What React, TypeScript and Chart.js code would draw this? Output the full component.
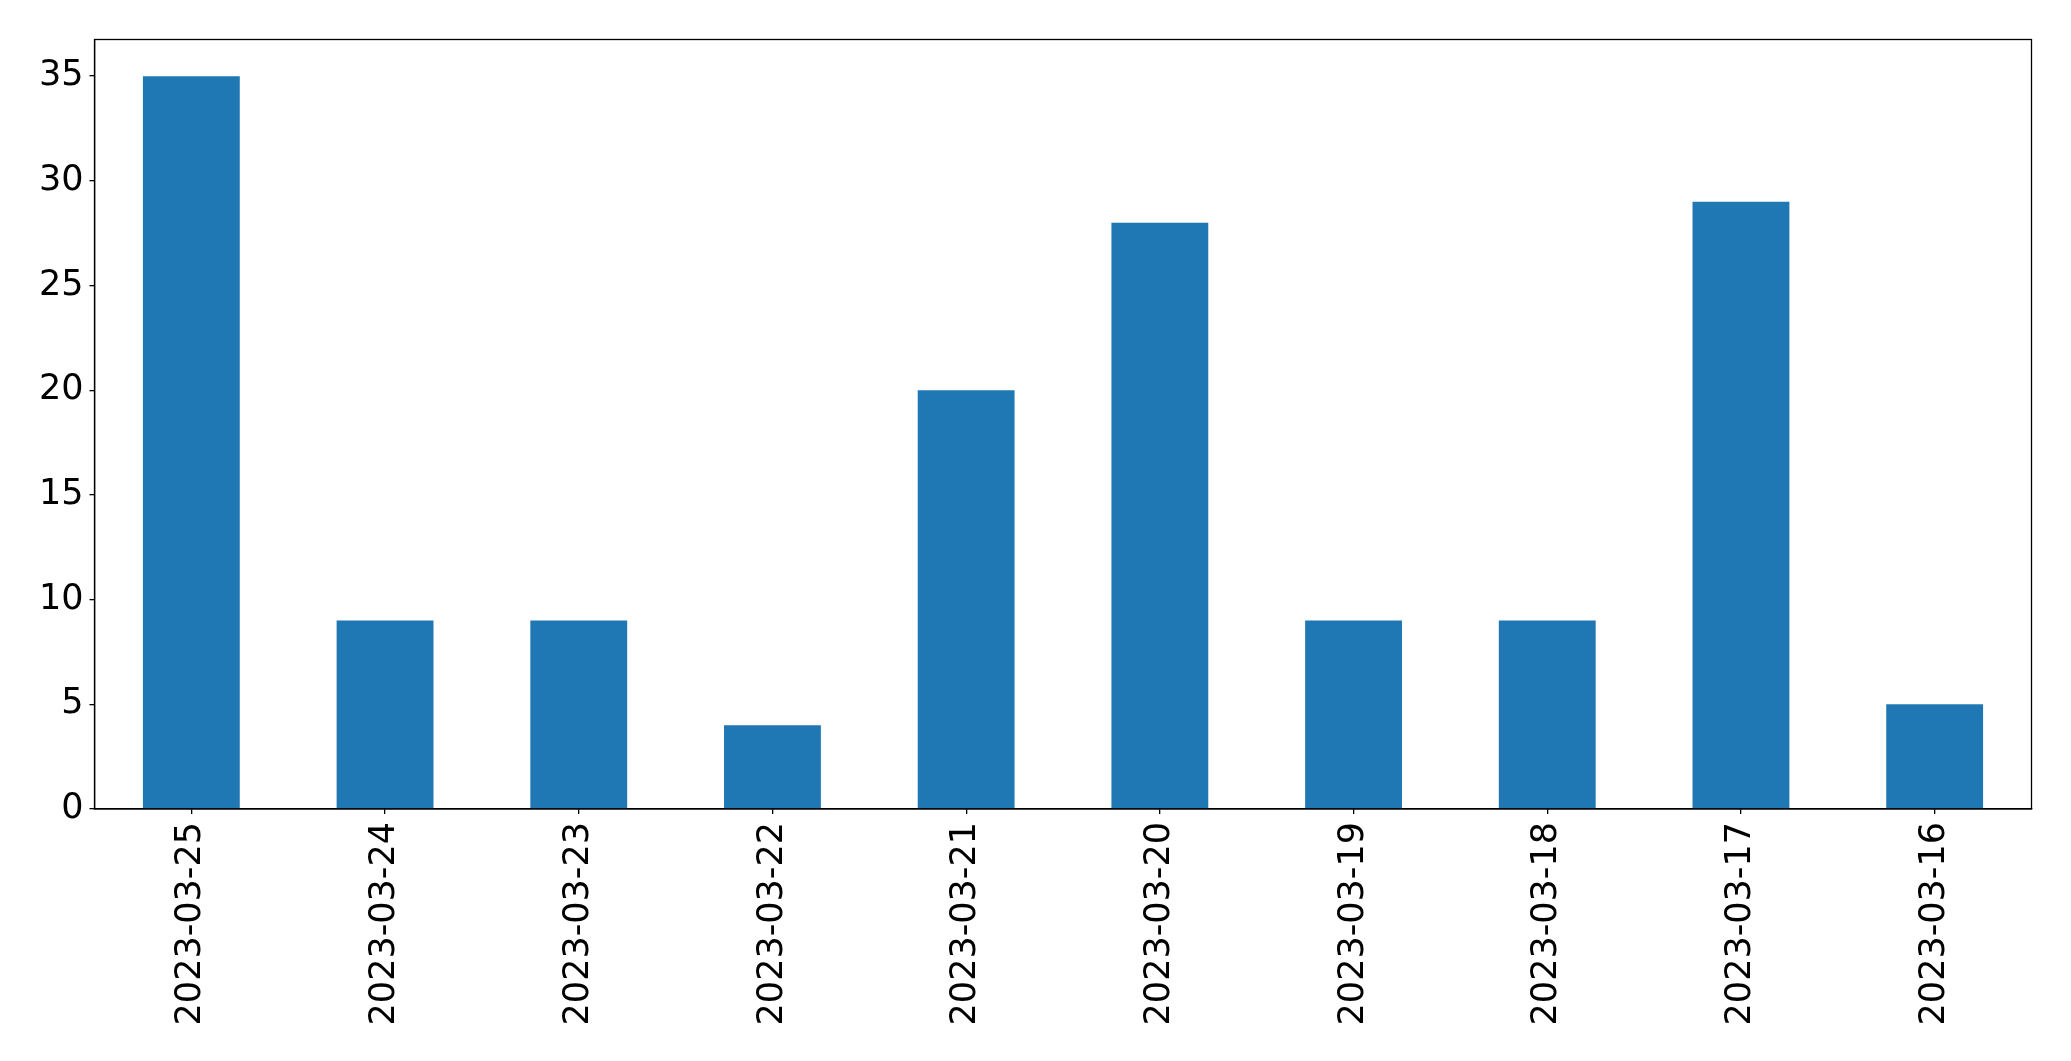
import React, { useEffect, useRef } from "react";
import { Chart, registerables } from "chart.js";

Chart.register(...registerables);

const categories = [
  "2023-03-25", "2023-03-24", "2023-03-23", "2023-03-22", "2023-03-21",
  "2023-03-20", "2023-03-19", "2023-03-18", "2023-03-17", "2023-03-16",
];
const values = [35, 9, 9, 4, 20, 28, 9, 9, 29, 5];
const yTicks = [0, 5, 10, 15, 20, 25, 30, 35];
const yMax = 36.75;

const W = 2071;
const H = 1061;
const FONT = "'DejaVu Sans', sans-serif";
const FS = 35;

const framePlugin = {
  id: "frame",
  afterDraw(chart: any) {
    const { ctx, chartArea } = chart;
    ctx.save();
    ctx.strokeStyle = "#000";
    ctx.lineWidth = 1.3;
    ctx.strokeRect(chartArea.left, chartArea.top, chartArea.right - chartArea.left, chartArea.bottom - chartArea.top);
    ctx.restore();
  },
};

export default function App() {
  const ref = useRef<HTMLCanvasElement | null>(null);
  useEffect(() => {
    document.body.style.margin = "0";
    const canvas = ref.current!;
    const chart = new Chart(canvas, {
      type: "bar",
      data: {
        labels: categories,
        datasets: [
          {
            data: values,
            backgroundColor: "#1f77b4",
            borderWidth: 0,
            categoryPercentage: 1,
            barPercentage: 0.5,
          },
        ],
      },
      options: {
        animation: false,
        responsive: false,
        devicePixelRatio: 1,
        layout: { padding: { top: 39.5, right: 39.5, left: 0, bottom: 0 } },
        plugins: { legend: { display: false }, tooltip: { enabled: false } },
        scales: {
          x: {
            offset: true,
            grid: { display: true, offset: false, drawOnChartArea: false, tickLength: 5, color: "#000", lineWidth: 1.3 },
            border: { display: true, color: "#000", width: 1.3 },
            ticks: {
              color: "#000",
              font: { family: FONT, size: FS },
              minRotation: 90,
              maxRotation: 90,
              padding: 8,
              autoSkip: false,
            },
            afterFit(scale: any) {
              scale.height = H - 809;
            },
          },
          y: {
            min: 0,
            max: yMax,
            grid: { display: true, drawOnChartArea: false, tickLength: 5, color: "#000", lineWidth: 1.3 },
            border: { display: true, color: "#000", width: 1.3 },
            ticks: {
              color: "#000",
              font: { family: FONT, size: FS },
              padding: 6,
              stepSize: 5,
            },
            afterBuildTicks(scale: any) {
              scale.ticks = yTicks.map((v) => ({ value: v }));
            },
            afterFit(scale: any) {
              scale.width = 94.5;
            },
          },
        },
      },
      plugins: [framePlugin],
    });
    return () => chart.destroy();
  }, []);
  return (
    <div style={{ position: "absolute", left: 0, top: 0, width: W, height: H, background: "#fff" }}>
      <canvas ref={ref} width={W} height={H} style={{ width: W, height: H, display: "block" }} />
    </div>
  );
}
